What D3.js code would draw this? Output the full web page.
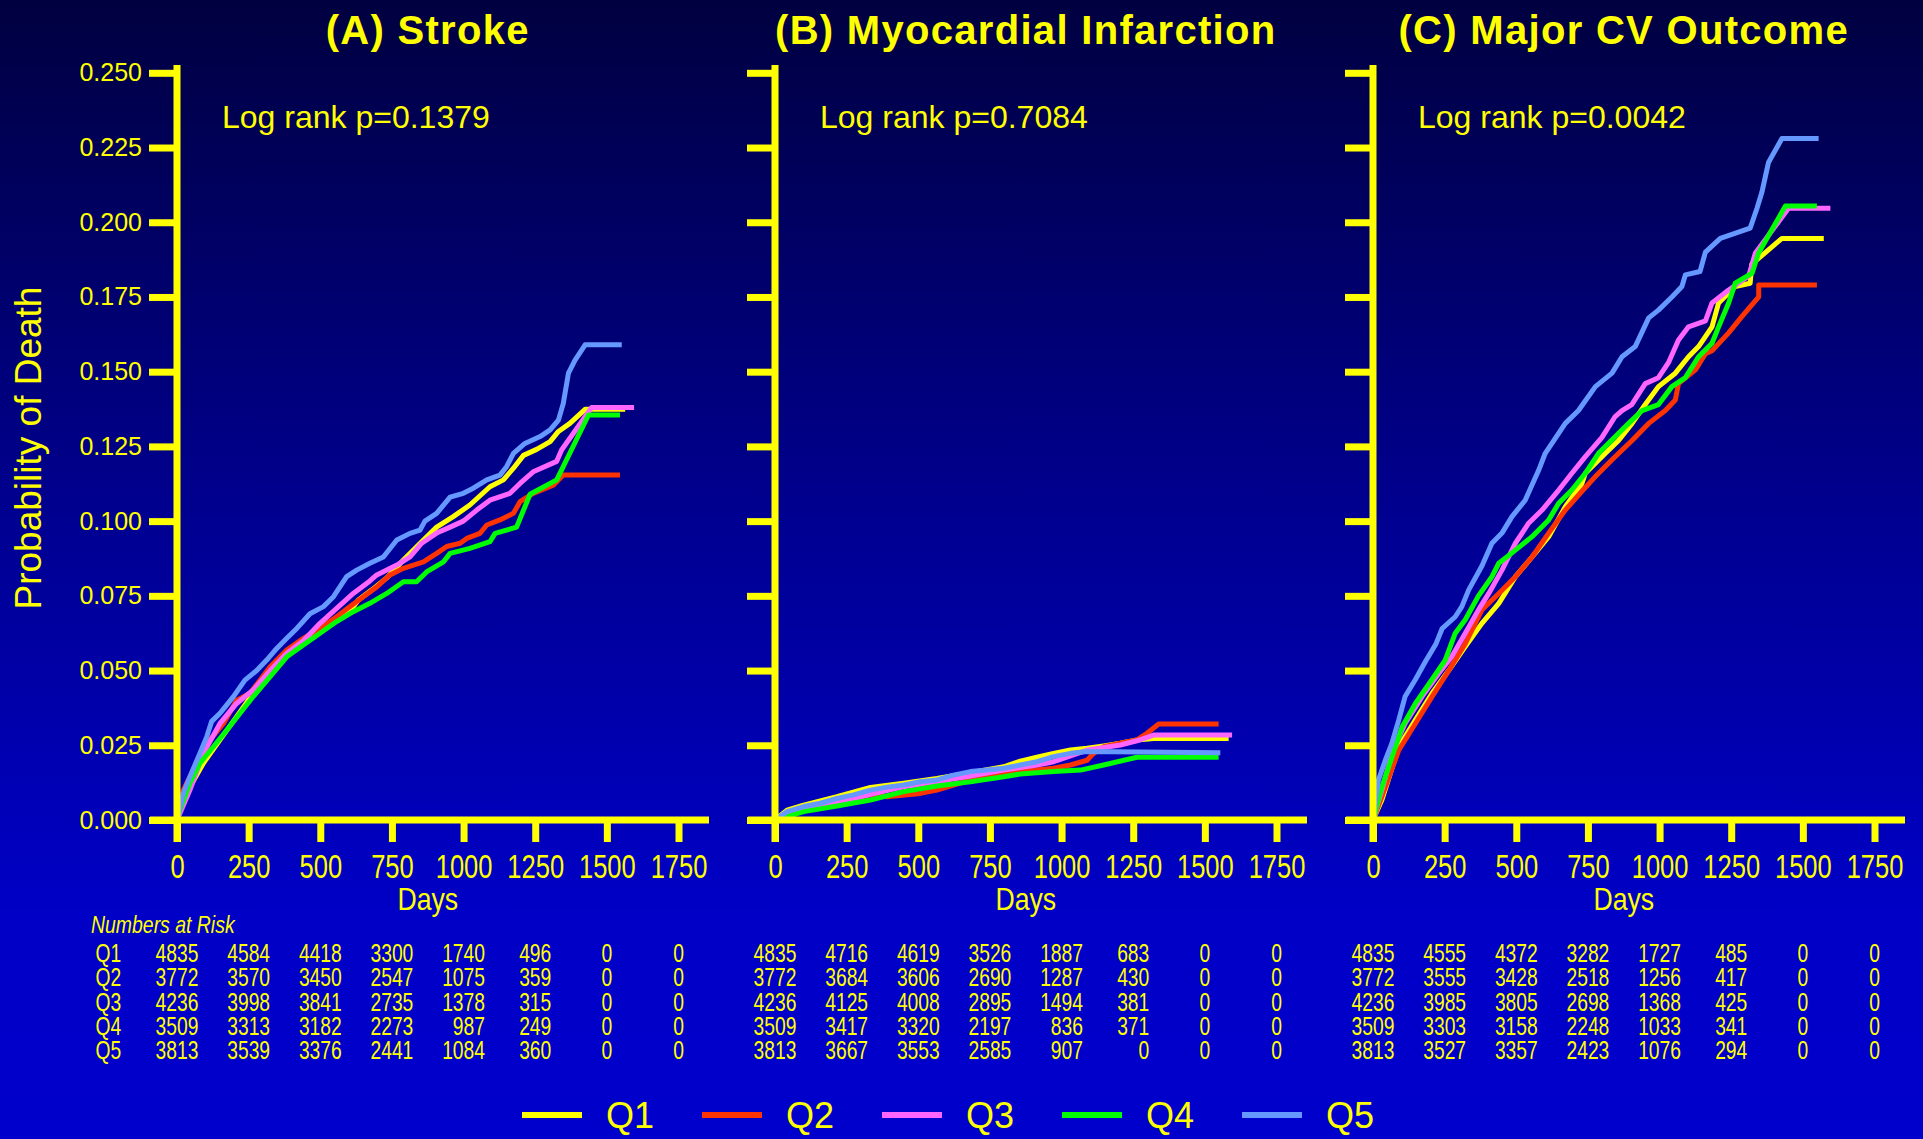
<!DOCTYPE html>
<html>
<head>
<meta charset="utf-8">
<script src="https://cdn.jsdelivr.net/npm/d3@7"></script>
<style>
  html, body { margin: 0; padding: 0; background: #000040; }
  svg { display: block; }
</style>
</head>
<body>
<svg id="chart" width="1923" height="1139"></svg>
<script>
// ---- categories, labels, colours ----
const quintiles = ["Q1", "Q2", "Q3", "Q4", "Q5"];
const quintileColors = ["#FFFF00", "#FF3300", "#FF66FF", "#00FF00", "#6699FF"];
const dayTicks = [0, 250, 500, 750, 1000, 1250, 1500, 1750];
const probTicks = [0, 0.025, 0.05, 0.075, 0.1, 0.125, 0.15, 0.175, 0.2, 0.225, 0.25];
const panelTitles = ["(A) Stroke", "(B) Myocardial Infarction", "(C) Major CV Outcome"];
const logRankP = ["0.1379", "0.7084", "0.0042"];

// ---- cumulative probability curves: [day, probability] ----
const strokeQ1 = [[0,0],[10,0.003],[45,0.011],[92,0.019],[150,0.0268],[208,0.0346],[266,0.0424],[325,0.049],[383,0.0552],[441,0.059],[499,0.063],[557,0.067],[615,0.0714],[633,0.0736],[680,0.077],[732,0.081],[790,0.087],[860,0.0937],[906,0.098],[964,0.1015],[1022,0.1054],[1092,0.1115],[1139,0.1138],[1174,0.1177],[1209,0.122],[1255,0.124],[1302,0.1266],[1331,0.13],[1371,0.1327],[1424,0.1374],[1564,0.1374]];
const strokeQ2 = [[0,0],[22,0.01],[57,0.0167],[92,0.0223],[115,0.0268],[162,0.0323],[208,0.04],[255,0.0424],[325,0.0513],[383,0.0569],[441,0.0608],[499,0.0641],[557,0.068],[604,0.0714],[650,0.0747],[697,0.078],[743,0.082],[790,0.0842],[860,0.0864],[906,0.0892],[941,0.0915],[988,0.0926],[1011,0.0942],[1057,0.0959],[1081,0.0987],[1127,0.1004],[1174,0.1026],[1197,0.1065],[1243,0.1093],[1313,0.112],[1348,0.1154],[1546,0.1154]];
const strokeQ3 = [[0,0],[10,0.0022],[45,0.01],[92,0.0223],[150,0.0323],[208,0.039],[266,0.0435],[325,0.05],[383,0.0558],[441,0.06],[499,0.0658],[557,0.0708],[615,0.0758],[673,0.08],[697,0.082],[767,0.0853],[813,0.088],[854,0.0926],[906,0.096],[953,0.098],[999,0.1],[1046,0.1037],[1092,0.107],[1162,0.1093],[1197,0.1126],[1243,0.1165],[1325,0.12],[1342,0.1238],[1447,0.138],[1595,0.138]];
const strokeQ4 = [[0,0],[10,0.0033],[45,0.0123],[80,0.019],[127,0.0245],[173,0.03],[220,0.0357],[266,0.0413],[325,0.048],[383,0.0546],[441,0.0586],[499,0.0625],[557,0.0664],[615,0.0697],[673,0.0725],[732,0.0758],[790,0.0797],[836,0.0797],[871,0.083],[930,0.0864],[953,0.0892],[1022,0.0909],[1092,0.0931],[1110,0.0959],[1185,0.098],[1232,0.109],[1325,0.1138],[1436,0.1355],[1546,0.1355]];
const strokeQ5 = [[0,0],[22,0.0089],[45,0.0145],[80,0.0223],[104,0.0279],[121,0.033],[150,0.0357],[197,0.0413],[237,0.0468],[278,0.05],[313,0.0535],[348,0.0574],[383,0.0608],[418,0.0641],[464,0.069],[511,0.0714],[546,0.0747],[592,0.0814],[627,0.0836],[673,0.0859],[720,0.088],[767,0.0937],[813,0.0959],[848,0.097],[865,0.1],[906,0.1026],[953,0.108],[999,0.1093],[1034,0.111],[1081,0.1138],[1127,0.1154],[1150,0.1182],[1174,0.1227],[1214,0.126],[1267,0.1283],[1302,0.1305],[1331,0.1338],[1348,0.1394],[1366,0.1495],[1389,0.1539],[1424,0.159],[1552,0.159]];

const miQ1 = [[0,0],[42,0.0033],[100,0.005],[216,0.0078],[333,0.0109],[449,0.0123],[565,0.0139],[682,0.0158],[798,0.0178],[856,0.0197],[914,0.021],[972,0.0223],[1031,0.0234],[1089,0.024],[1147,0.0248],[1205,0.0257],[1263,0.0268],[1321,0.0273],[1583,0.0273]];
const miQ2 = [[0,0],[100,0.0033],[216,0.0061],[333,0.0084],[391,0.0078],[507,0.0089],[565,0.01],[623,0.0117],[682,0.0134],[740,0.0147],[798,0.0154],[856,0.0162],[914,0.0167],[972,0.0173],[1031,0.0184],[1089,0.02],[1112,0.0223],[1147,0.0245],[1205,0.0257],[1263,0.0268],[1298,0.029],[1339,0.0321],[1548,0.0321]];
const miQ3 = [[0,0],[100,0.0033],[216,0.0056],[333,0.0086],[449,0.0111],[565,0.0128],[682,0.0147],[798,0.0167],[914,0.0184],[972,0.0195],[1089,0.0234],[1205,0.0251],[1263,0.0265],[1321,0.0284],[1595,0.0284]];
const miQ4 = [[0,0],[100,0.0028],[216,0.0047],[333,0.0067],[449,0.0095],[565,0.0114],[682,0.0128],[798,0.0145],[856,0.0154],[914,0.0158],[972,0.0162],[1066,0.0167],[1147,0.0184],[1263,0.021],[1548,0.021]];
const miQ5 = [[0,0],[42,0.0028],[100,0.0045],[158,0.0056],[216,0.0072],[274,0.0084],[333,0.01],[391,0.011],[449,0.0117],[507,0.0128],[565,0.0134],[623,0.015],[682,0.0162],[740,0.0167],[798,0.0173],[856,0.0184],[914,0.0195],[972,0.0212],[1031,0.0223],[1089,0.0229],[1554,0.0225]];

const cvQ1 = [[0,0],[31,0.0067],[90,0.0245],[148,0.0335],[206,0.0424],[264,0.05],[322,0.058],[380,0.0658],[439,0.0725],[497,0.0814],[555,0.088],[613,0.0948],[671,0.1048],[729,0.1126],[741,0.116],[811,0.1227],[857,0.127],[904,0.1327],[950,0.139],[996,0.145],[1055,0.1495],[1101,0.155],[1136,0.1584],[1183,0.165],[1206,0.173],[1264,0.1785],[1316,0.1796],[1322,0.186],[1427,0.1946],[1573,0.1946]];
const cvQ2 = [[0,0],[31,0.0078],[90,0.0234],[148,0.0323],[206,0.0413],[264,0.05],[322,0.059],[380,0.0703],[439,0.0758],[497,0.0814],[555,0.088],[613,0.096],[671,0.1037],[729,0.11],[776,0.1149],[834,0.1205],[904,0.127],[962,0.1327],[1020,0.137],[1055,0.1405],[1066,0.146],[1125,0.1506],[1160,0.156],[1183,0.157],[1241,0.163],[1287,0.1684],[1346,0.175],[1346,0.179],[1549,0.179]];
const cvQ3 = [[0,0],[31,0.01],[66,0.0223],[112,0.0323],[171,0.0413],[229,0.049],[275,0.0547],[322,0.0625],[368,0.0703],[404,0.0758],[450,0.0836],[497,0.0926],[543,0.0993],[590,0.1037],[648,0.1104],[694,0.116],[741,0.1216],[799,0.128],[845,0.135],[869,0.137],[903,0.139],[950,0.146],[996,0.148],[1031,0.153],[1066,0.1606],[1101,0.165],[1160,0.167],[1183,0.173],[1241,0.1773],[1311,0.182],[1334,0.1896],[1450,0.2047],[1596,0.2047]];
const cvQ4 = [[0,0],[31,0.011],[66,0.021],[101,0.031],[148,0.039],[206,0.047],[252,0.0535],[287,0.0625],[322,0.067],[368,0.075],[415,0.0814],[439,0.0859],[497,0.0903],[555,0.0948],[613,0.1004],[648,0.106],[694,0.1104],[741,0.116],[787,0.1227],[857,0.1294],[892,0.1327],[939,0.137],[996,0.139],[1043,0.145],[1090,0.148],[1136,0.155],[1183,0.1595],[1206,0.165],[1241,0.173],[1264,0.1796],[1323,0.183],[1345,0.1896],[1439,0.2054],[1549,0.2054]];
const cvQ5 = [[0,0],[19,0.0134],[43,0.02],[66,0.0257],[90,0.0335],[112,0.0413],[148,0.047],[183,0.053],[220,0.059],[241,0.064],[287,0.068],[310,0.0714],[334,0.077],[380,0.085],[415,0.0926],[450,0.096],[485,0.1015],[531,0.107],[578,0.117],[601,0.1227],[671,0.1327],[717,0.137],[776,0.145],[834,0.1495],[869,0.155],[915,0.1584],[962,0.168],[996,0.1706],[1043,0.175],[1078,0.1785],[1090,0.1824],[1141,0.1835],[1160,0.19],[1212,0.1946],[1316,0.198],[1340,0.2047],[1357,0.21],[1380,0.22],[1427,0.228],[1555,0.228]];

// ---- numbers at risk (rows Q1..Q5, columns at dayTicks) ----
const riskStroke = [
  [4835, 4584, 4418, 3300, 1740, 496, 0, 0],
  [3772, 3570, 3450, 2547, 1075, 359, 0, 0],
  [4236, 3998, 3841, 2735, 1378, 315, 0, 0],
  [3509, 3313, 3182, 2273, 987, 249, 0, 0],
  [3813, 3539, 3376, 2441, 1084, 360, 0, 0]
];
const riskMI = [
  [4835, 4716, 4619, 3526, 1887, 683, 0, 0],
  [3772, 3684, 3606, 2690, 1287, 430, 0, 0],
  [4236, 4125, 4008, 2895, 1494, 381, 0, 0],
  [3509, 3417, 3320, 2197, 836, 371, 0, 0],
  [3813, 3667, 3553, 2585, 907, 0, 0, 0]
];
const riskCV = [
  [4835, 4555, 4372, 3282, 1727, 485, 0, 0],
  [3772, 3555, 3428, 2518, 1256, 417, 0, 0],
  [4236, 3985, 3805, 2698, 1368, 425, 0, 0],
  [3509, 3303, 3158, 2248, 1033, 341, 0, 0],
  [3813, 3527, 3357, 2423, 1076, 294, 0, 0]
];

const panels = [
  { title: panelTitles[0], p: logRankP[0], curves: [strokeQ1, strokeQ2, strokeQ3, strokeQ4, strokeQ5], risk: riskStroke },
  { title: panelTitles[1], p: logRankP[1], curves: [miQ1, miQ2, miQ3, miQ4, miQ5], risk: riskMI },
  { title: panelTitles[2], p: logRankP[2], curves: [cvQ1, cvQ2, cvQ3, cvQ4, cvQ5], risk: riskCV }
];

// ---- drawing ----
const YELLOW = "#FFFF00";
const SANS = "'Liberation Sans', Arial, sans-serif";

const svg = d3.select("#chart");

const defs = svg.append("defs");
const grad = defs.append("linearGradient").attr("id", "bg").attr("x1", 0).attr("y1", 0).attr("x2", 0).attr("y2", 1);
grad.append("stop").attr("offset", "0%").attr("stop-color", "#000040");
grad.append("stop").attr("offset", "45%").attr("stop-color", "#000090");
grad.append("stop").attr("offset", "80%").attr("stop-color", "#0000C6");
grad.append("stop").attr("offset", "100%").attr("stop-color", "#0000CC");
svg.append("rect").attr("width", 1923).attr("height", 1139).attr("fill", "url(#bg)");

// horizontally compressed text (narrow face)
function narrowText(parent, x, y, str, size, sx, anchor) {
  return parent.append("text")
    .attr("transform", `translate(${x},${y}) scale(${sx},1)`)
    .attr("font-family", SANS).attr("font-size", size)
    .attr("text-anchor", anchor || "start")
    .attr("fill", YELLOW)
    .text(str);
}

const plotW = 501.5;          // pixel width of 0..1750 days
const yZero = 820, yTop = 72.8;
const panelStep = 598;
const firstX0 = 177;
const riskScale = 0.77;

const y = d3.scaleLinear().domain([0, 0.25]).range([yZero, yTop]);

panels.forEach((pan, i) => {
  const x0 = firstX0 + i * panelStep;
  const x = d3.scaleLinear().domain([0, 1750]).range([x0, x0 + plotW]);
  const g = svg.append("g");

  // title
  g.append("text")
    .attr("x", x(875)).attr("y", 44)
    .attr("text-anchor", "middle")
    .attr("font-family", SANS).attr("font-weight", "bold")
    .attr("font-size", 40).attr("letter-spacing", 1.3)
    .attr("fill", YELLOW)
    .text(pan.title);

  // log-rank annotation
  g.append("text")
    .attr("x", x0 + 45).attr("y", 128)
    .attr("font-family", SANS).attr("font-size", 32)
    .attr("fill", YELLOW)
    .text("Log rank p=" + pan.p);

  // curves
  const line = d3.line().x(d => x(d[0])).y(d => y(d[1]));
  pan.curves.forEach((c, k) => {
    g.append("path")
      .datum(c)
      .attr("d", line)
      .attr("fill", "none")
      .attr("stroke", quintileColors[k])
      .attr("stroke-width", 5)
      .attr("stroke-linejoin", "round");
  });

  // y axis
  const yAxis = d3.axisLeft(y)
    .tickValues(probTicks)
    .tickSize(28).tickSizeOuter(0).tickPadding(7)
    .tickFormat(i === 0 ? d3.format(".3f") : () => "");
  const gy = g.append("g").attr("transform", `translate(${x0},0)`).call(yAxis);
  gy.select(".domain").remove();
  gy.selectAll(".tick line").attr("stroke", YELLOW).attr("stroke-width", 7);
  gy.selectAll(".tick text")
    .attr("fill", YELLOW).attr("font-family", SANS).attr("font-size", 25);

  // x axis
  const xAxis = d3.axisBottom(x)
    .tickValues(dayTicks)
    .tickSize(22).tickSizeOuter(0)
    .tickFormat(d3.format("d"));
  const gx = g.append("g").attr("transform", `translate(0,${yZero})`).call(xAxis);
  gx.select(".domain").remove();
  gx.selectAll(".tick line").attr("stroke", YELLOW).attr("stroke-width", 7);
  gx.selectAll(".tick text")
    .attr("y", 0).attr("dy", null)
    .attr("transform", "translate(0,58) scale(0.75,1)")
    .attr("fill", YELLOW).attr("font-family", SANS).attr("font-size", 34);

  // axis spines
  g.append("line")
    .attr("x1", x0).attr("x2", x0).attr("y1", 65).attr("y2", yZero + 22)
    .attr("stroke", YELLOW).attr("stroke-width", 7);
  g.append("line")
    .attr("x1", x0 - 27).attr("x2", x0 + 532).attr("y1", yZero).attr("y2", yZero)
    .attr("stroke", YELLOW).attr("stroke-width", 7);

  // x axis title
  narrowText(g, x(875), 910, "Days", 31, 0.86, "middle");

  // numbers at risk
  const riskG = g.append("g");
  dayTicks.forEach((day, col) => {
    const texts = pan.risk.map((row, r) =>
      narrowText(riskG, 0, 0, row[col], 25, riskScale, "end"));
    const maxW = d3.max(texts, t => t.node().getComputedTextLength()) * riskScale;
    texts.forEach((t, r) =>
      t.attr("transform", `translate(${x(day) + maxW / 2},${961.7 + r * 24.4}) scale(${riskScale},1)`));
  });

  if (i === 0) {
    narrowText(riskG, 91, 933, "Numbers at Risk", 24, 0.81, "start")
      .attr("font-style", "italic");
    quintiles.forEach((q, r) => {
      narrowText(riskG, 95.5, 961.7 + r * 24.4, q, 25, riskScale, "start");
    });
  }
});

// y axis title
svg.append("text")
  .attr("transform", "translate(41,448) rotate(-90)")
  .attr("text-anchor", "middle")
  .attr("font-family", SANS).attr("font-size", 37)
  .attr("fill", YELLOW)
  .text("Probability of Death");

// legend
const legend = svg.append("g");
quintiles.forEach((q, k) => {
  const lx = 522 + k * 180;
  legend.append("line")
    .attr("x1", lx).attr("x2", lx + 60)
    .attr("y1", 1115).attr("y2", 1115)
    .attr("stroke", quintileColors[k]).attr("stroke-width", 6);
  legend.append("text")
    .attr("x", lx + 84).attr("y", 1128)
    .attr("font-family", SANS).attr("font-size", 36)
    .attr("fill", YELLOW)
    .text(q);
});
</script>
</body>
</html>
